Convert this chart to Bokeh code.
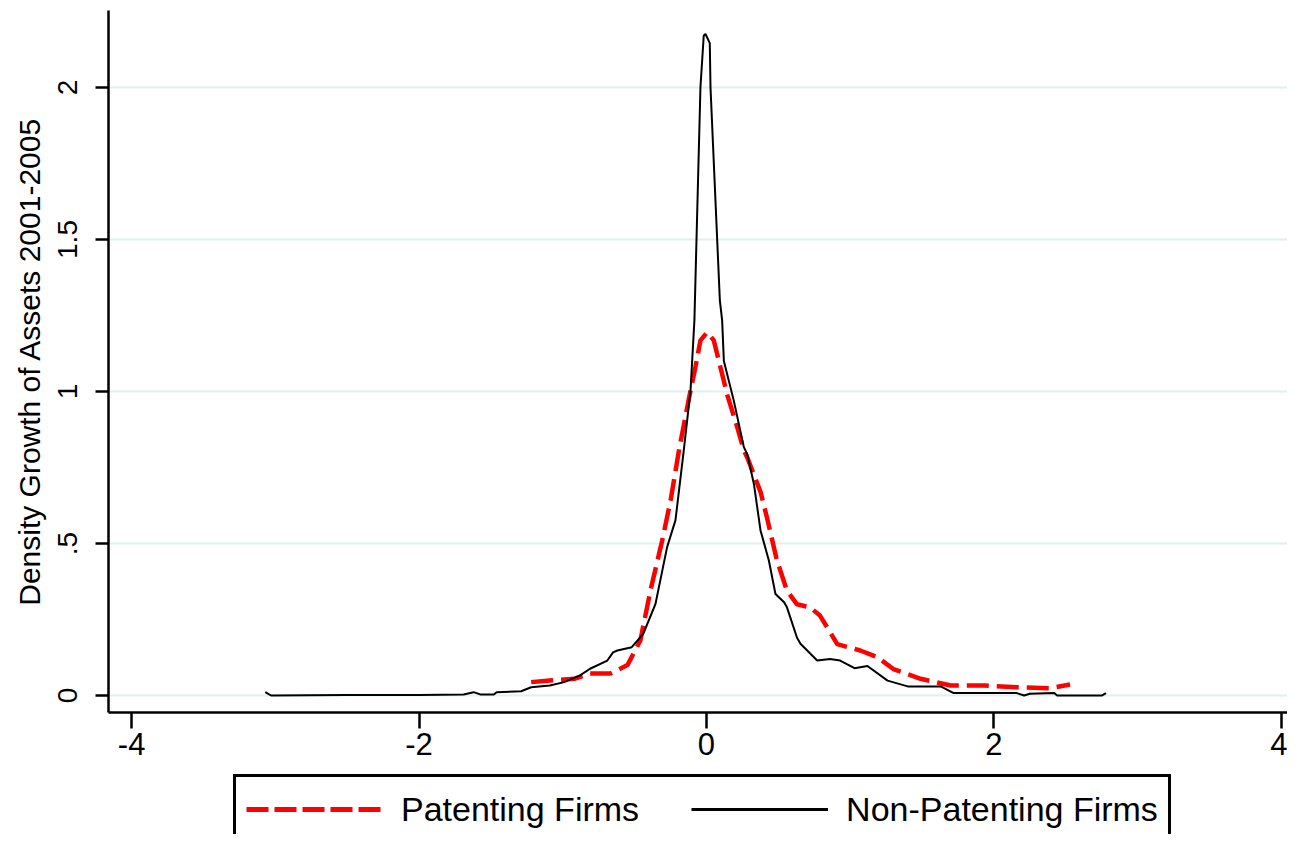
from bokeh.plotting import figure
from bokeh.models import Legend, LegendItem, FixedTicker
from bokeh.layouts import column
from bokeh.embed import file_html
from bokeh.resources import INLINE

# ---- data ----
non_x = [-3.07, -3.03, -2.5, -2.0, -1.69, -1.62, -1.57, -1.48, -1.46, -1.29, -1.22, -1.09,
         -0.99, -0.88, -0.81, -0.69, -0.65, -0.62, -0.52, -0.44, -0.355, -0.274, -0.216,
         -0.158, -0.111, -0.084, -0.042, -0.019, -0.007, 0.023, 0.028, 0.093, 0.109, 0.121,
         0.19, 0.26, 0.283, 0.33, 0.376, 0.434, 0.48, 0.54, 0.56, 0.63, 0.654, 0.77, 0.86,
         0.93, 1.03, 1.12, 1.26, 1.40, 1.63, 1.72, 2.16, 2.21, 2.25, 2.42, 2.44, 2.75, 2.78]
non_y = [0.011, 0.0, 0.002, 0.002, 0.003, 0.011, 0.003, 0.003, 0.011, 0.014, 0.027, 0.033,
         0.044, 0.066, 0.088, 0.115, 0.142, 0.148, 0.159, 0.203, 0.301, 0.488, 0.576,
         0.806, 1.003, 1.234, 2.0, 2.171, 2.176, 2.146, 2.0, 1.30, 1.234, 1.10,
         0.97, 0.817, 0.795, 0.696, 0.543, 0.444, 0.334, 0.307, 0.29, 0.19, 0.17, 0.115, 0.12,
         0.115, 0.09, 0.097, 0.049, 0.03, 0.03, 0.008, 0.008, 0.0, 0.006, 0.008, 0.0, 0.0, 0.008]

pat_x = [-1.22, -1.09, -0.92, -0.81, -0.67, -0.55, -0.46, -0.39, -0.308, -0.25, -0.19,
         -0.125, -0.077, -0.042, 0.005, 0.051, 0.097, 0.144, 0.214, 0.26, 0.283, 0.376,
         0.42, 0.49, 0.56, 0.63, 0.72, 0.79, 0.91, 1.07, 1.19, 1.30, 1.49, 1.70, 1.93,
         2.16, 2.39, 2.53]
pat_y = [0.044, 0.049, 0.055, 0.072, 0.072, 0.10, 0.181, 0.345, 0.51, 0.641, 0.81,
         0.97, 1.08, 1.168, 1.195, 1.168, 1.08, 0.99, 0.883, 0.806, 0.784, 0.67,
         0.587, 0.445, 0.345, 0.30, 0.29, 0.263, 0.169, 0.148, 0.126, 0.087, 0.055, 0.033, 0.033,
         0.027, 0.024, 0.036]

x_ticks = [-4, -2, 0, 2, 4]
x_tick_labels = ["-4", "-2", "0", "2", "4"]
y_ticks = [0, 0.5, 1, 1.5, 2]
y_tick_labels = ["0", ".5", "1", "1.5", "2"]
series_labels = ["Patenting Firms", "Non-Patenting Firms"]
y_title = "Density Growth of Assets 2001-2005"

FONT = "Liberation Sans"
RED = "#ff0000"

p = figure(width=1287, height=772, output_backend="svg", toolbar_location=None,
           x_range=(-4.161, 4.043), y_range=(-0.0559, 2.2533))
p.min_border_left = 108
p.min_border_top = 10
p.min_border_right = 0
p.min_border_bottom = 60
p.outline_line_color = None
p.background_fill_color = "white"
p.border_fill_color = "white"

p.xgrid.visible = False
p.ygrid.ticker = FixedTicker(ticks=y_ticks)
p.ygrid.grid_line_color = "#e4eeef"
p.ygrid.grid_line_width = 2

# x axis
xa = p.xaxis[0]
xa.ticker = FixedTicker(ticks=x_ticks)
xa.major_label_overrides = {t: l for t, l in zip(x_ticks, x_tick_labels)}
xa.axis_line_width = 2.5
xa.axis_line_color = "black"
xa.major_tick_line_width = 2.5
xa.major_tick_line_color = "black"
xa.major_tick_out = 16
xa.major_tick_in = 0
xa.minor_tick_line_color = None
xa.major_label_text_font = FONT
xa.major_label_text_font_size = "31px"
xa.major_label_text_color = "black"
xa.major_label_standoff = 4

# y axis
ya = p.yaxis[0]
ya.ticker = FixedTicker(ticks=y_ticks)
ya.major_label_overrides = {t: l for t, l in zip(y_ticks, y_tick_labels)}
ya.major_label_orientation = "vertical"
ya.axis_line_width = 2.5
ya.axis_line_color = "black"
ya.major_tick_line_width = 2.5
ya.major_tick_line_color = "black"
ya.major_tick_out = 13
ya.major_tick_in = 0
ya.minor_tick_line_color = None
ya.major_label_text_font = FONT
ya.major_label_text_font_size = "28px"
ya.major_label_text_color = "black"
ya.major_label_standoff = 18
ya.axis_label = y_title
ya.axis_label_text_font = FONT
ya.axis_label_text_font_size = "30px"
ya.axis_label_text_font_style = "normal"
ya.axis_label_text_color = "black"
ya.axis_label_standoff = 10

p.line(pat_x, pat_y, line_color=RED, line_width=4.5, line_dash="22 8")
p.line(non_x, non_y, line_color="black", line_width=2)

# ---- legend strip below the plot (frame aligned with the plot's frame) ----
lg = figure(width=1287, height=62, output_backend="svg", toolbar_location=None,
            x_axis_location=None, y_axis_location=None,
            x_range=(-4.161, 4.043), y_range=(10, 11))
lg.min_border = 0
lg.outline_line_color = None
lg.grid.visible = False
lg.background_fill_color = "white"
lg.border_fill_color = "white"
r_pat = lg.line(pat_x, pat_y, line_color=RED, line_width=5, line_dash="22 6")
r_non = lg.line(non_x, non_y, line_color="black", line_width=3)

legend = Legend(items=[LegendItem(label=series_labels[0], renderers=[r_pat]),
                       LegendItem(label=series_labels[1], renderers=[r_non])],
                orientation="horizontal", location=(125, -10))
legend.border_line_color = "black"
legend.border_line_alpha = 1
legend.border_line_width = 3
legend.background_fill_color = "white"
legend.background_fill_alpha = 1
legend.label_text_font = FONT
legend.label_text_font_size = "34px"
legend.label_text_color = "black"
legend.glyph_width = 137
legend.glyph_height = 44
legend.label_height = 44
legend.label_standoff = 18
legend.spacing = 52
legend.padding = 10
legend.margin = 0
lg.add_layout(legend)

open("out.html", "w").write(file_html(column(p, lg), INLINE))
